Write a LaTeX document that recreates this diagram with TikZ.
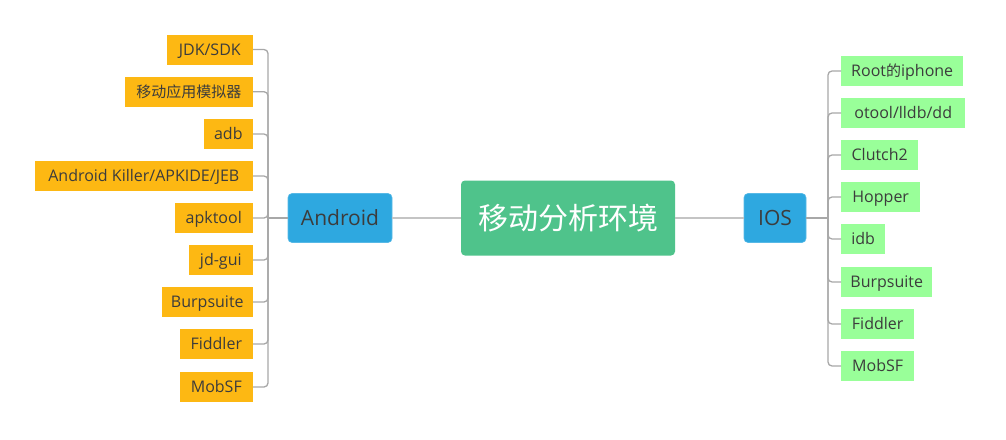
\documentclass[tikz,border=0pt]{standalone}
\usepackage{fontspec}
\setmainfont{Open Sans}
\newfontfamily\cjk{Noto Sans CJK SC}
\definecolor{orangeC}{HTML}{FDB813}
\definecolor{leafG}{HTML}{99FF99}
\definecolor{blueC}{HTML}{2EA8E0}
\definecolor{centerG}{HTML}{4FC38B}
\definecolor{textC}{HTML}{3C3C3C}
\definecolor{lineC}{HTML}{A8A8A8}
\definecolor{mainLine}{HTML}{C4C4C4}
\begin{document}
\begin{tikzpicture}[x=1pt,y=-1pt,
  leafbase/.style={minimum height=30pt, inner sep=0pt, text=textC, font=\fontsize{16}{18}\selectfont, text height=11.5pt, text depth=0pt},
  leafL/.style={leafbase, fill=orangeC, anchor=east},
  leafR/.style={leafbase, fill=leafG, anchor=west},
  midbox/.style={fill=blueC, rounded corners=4pt, draw=blueC!80!white, line width=0.6pt, inner sep=0pt, text=textC, font=\fontsize{21}{24}\selectfont, text height=15pt, text depth=0pt},
  rootbox/.style={fill=centerG, rounded corners=4pt, inner sep=0pt, text=white, font=\cjk\fontsize{30}{33}\selectfont},
  conn/.style={draw=lineC, line width=1.3pt, rounded corners=4pt},
  mainconn/.style={draw=mainLine, line width=1.3pt}]
\useasboundingbox (0,0) rectangle (1006,439);
% central
\node[rootbox, minimum width=214pt, minimum height=75pt] (root) at (568,218) {移动分析环境};
\node[midbox, minimum width=104pt, minimum height=49pt] (and) at (340,218) {Android};
\node[midbox, minimum width=62pt, minimum height=49pt] (ios) at (775,218) {IOS};
% left leaves
\node[leafL, minimum width=86pt] (l1) at (253,49.5) {JDK/SDK};
\node[leafL, minimum width=128pt] (l2) at (253,91.7) {\cjk\fontsize{15}{18}\selectfont 移动应用模拟器};
\node[leafL, minimum width=49pt] (l3) at (253,134) {adb};
\node[leafL, minimum width=218pt] (l4) at (253,176) {Android Killer/APKIDE/JEB};
\node[leafL, minimum width=78pt] (l5) at (253,218) {apktool};
\node[leafL, minimum width=64pt] (l6) at (253,260) {jd-gui};
\node[leafL, minimum width=91pt] (l7) at (253,302) {Burpsuite};
\node[leafL, minimum width=73pt] (l8) at (253,344) {Fiddler};
\node[leafL, minimum width=73pt] (l9) at (253,387) {MobSF};
% right leaves
\node[leafR, minimum width=122pt] (r1) at (841,71) {Root{\cjk\fontsize{15}{18}\selectfont 的}iphone};
\node[leafR, minimum width=124pt] (r2) at (841,113) {otool/lldb/dd};
\node[leafR, minimum width=77pt] (r3) at (841,155) {Clutch2};
\node[leafR, minimum width=79pt] (r4) at (841,197) {Hopper};
\node[leafR, minimum width=44pt] (r5) at (841,239) {idb};
\node[leafR, minimum width=91pt] (r6) at (841,282) {Burpsuite};
\node[leafR, minimum width=73pt] (r7) at (841,324) {Fiddler};
\node[leafR, minimum width=73pt] (r8) at (841,366) {MobSF};
% trunks
\coordinate (tl) at (268,218);
\coordinate (tr) at (828,218);
\draw[mainconn] (root.west) -- (and.east);
\draw[mainconn] (root.east) -- (ios.west);
\draw[conn] (and.west) -- (tl);
\draw[conn] (ios.east) -- (tr);
\foreach \n in {l1,l2,l3,l4,l5,l6,l7,l8,l9}
  \draw[conn] (tl) |- (\n.east);
\foreach \n in {r1,r2,r3,r4,r5,r6,r7,r8}
  \draw[conn] (tr) |- (\n.west);
\end{tikzpicture}
\end{document}
